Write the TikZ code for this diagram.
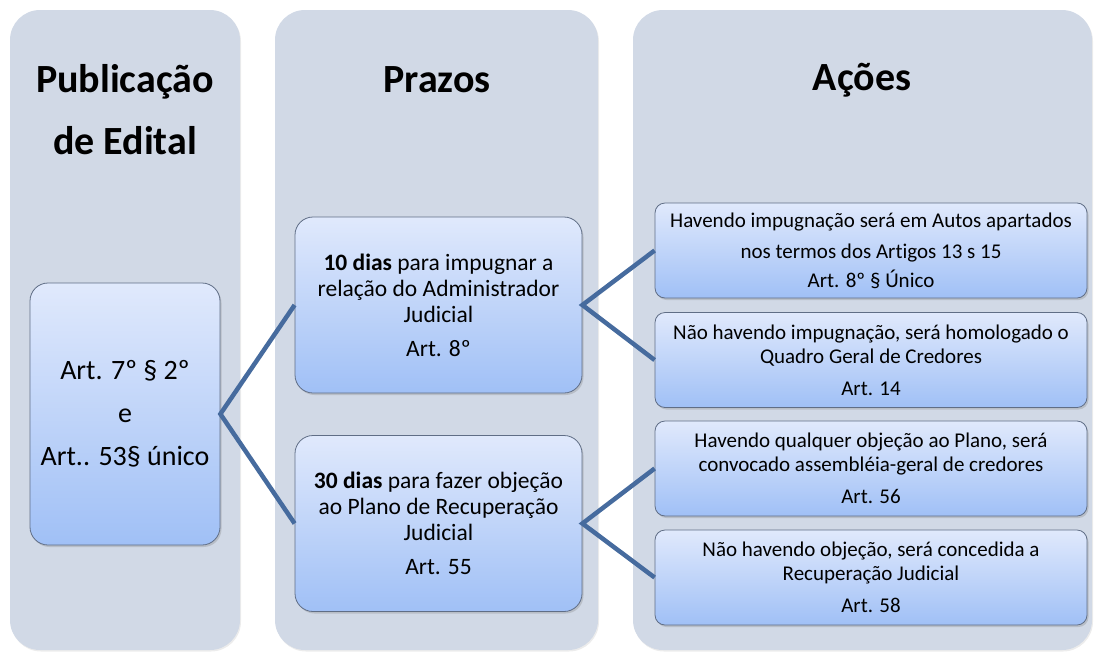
\documentclass[tikz,border=0pt]{standalone}
\usepackage{fontspec}
\setmainfont{Carlito}[Ligatures=NoCommon]
\usetikzlibrary{positioning,shadows}

\definecolor{colfill}{RGB}{209,217,230}
\definecolor{boxtop}{RGB}{224,233,252}
\definecolor{boxbot}{RGB}{160,192,246}
\definecolor{boxline}{RGB}{96,110,134}
\definecolor{linkcol}{RGB}{70,107,158}

\tikzset{
  column/.style={fill=colfill, rounded corners=30pt, inner sep=0pt,
    drop shadow={opacity=0.15, shadow xshift=1pt, shadow yshift=-1.5pt}},
  coltitle/.style={font=\fontsize{40}{62}\selectfont\bfseries, align=center},
  stepbox/.style={draw=boxline, line width=0.8pt, top color=boxtop,
    bottom color=boxbot, align=center, inner sep=0pt,
    drop shadow={opacity=0.3, shadow xshift=1.5pt, shadow yshift=-2pt}},
  artbox/.style={stepbox, rounded corners=18pt, minimum width=190pt,
    minimum height=262pt, font=\fontsize{28}{43}\selectfont},
  prazobox/.style={stepbox, rounded corners=18pt, minimum width=287pt,
    minimum height=176pt, font=\fontsize{23.5}{26}\selectfont},
  acaobox/.style={stepbox, rounded corners=10pt, minimum width=432pt,
    minimum height=95pt, font=\fontsize{21}{24}\selectfont},
  link/.style={draw=linkcol, line width=4.5pt}
}

\begin{document}
\begin{tikzpicture}[x=1pt, y=-1pt]
  \useasboundingbox (0,0) rectangle (1102,651);

  % columns
  \node[column, minimum width=230pt, minimum height=640pt] (col1) at (125,330) {};
  \node[column, minimum width=323pt, minimum height=640pt] (col2) at (436.5,330) {};
  \node[column, minimum width=459pt, minimum height=640pt] (col3) at (862.5,330) {};

  \node[coltitle] (tpub) at (125,110) {Publicação\\de Edital};
  \node[coltitle] (tprazos) at (437,80) {Prazos};
  \node[coltitle] (tacoes) at (862,80) {Ações};

  % boxes
  \node[artbox] (art) at (125,414) {Art. 7º § 2º\\e\\Art.. 53§ único};

  \node[prazobox] (p10) at (438.5,305)
    {\textbf{10 dias} para impugnar a\\relação do Administrador\\Judicial\\[8pt]Art. 8º};
  \node[prazobox] (p30) at (438.5,523.5)
    {\textbf{30 dias} para fazer objeção\\ao Plano de Recuperação\\Judicial\\[8pt]Art. 55};

  \node[acaobox] (a1) at (871,250.5)
    {Havendo impugnação será em Autos apartados\\[7pt]nos termos dos Artigos 13 s 15\\[5pt]Art. 8º § Único};
  \node[acaobox] (a2) at (871,360)
    {Não havendo impugnação, será homologado o\\Quadro Geral de Credores\\[8pt]Art. 14};
  \node[acaobox] (a3) at (871,468.5)
    {Havendo qualquer objeção ao Plano, será\\convocado assembléia-geral de credores\\[8pt]Art. 56};
  \node[acaobox] (a4) at (871,577.5)
    {Não havendo objeção, será concedida a\\Recuperação Judicial\\[8pt]Art. 58};

  % connectors
  \draw[link] (p10.west) -- (art.east) -- (p30.west);
  \draw[link] (a1.west) -- (p10.east) -- (a2.west);
  \draw[link] (a3.west) -- (p30.east) -- (a4.west);
\end{tikzpicture}
\end{document}
